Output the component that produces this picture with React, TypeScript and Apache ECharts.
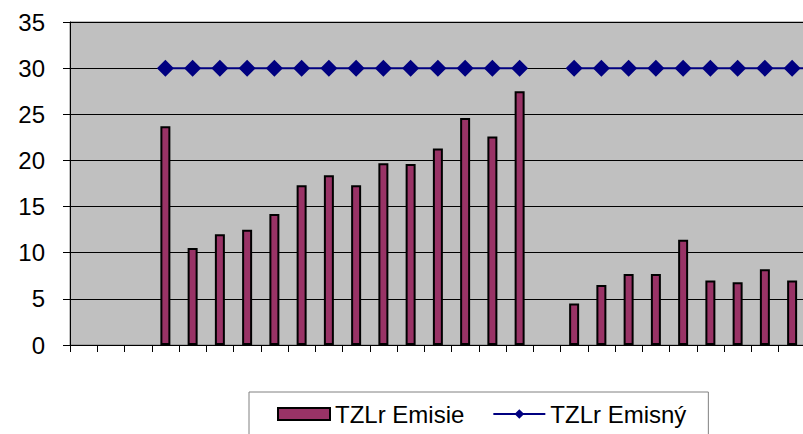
import React, { useEffect, useRef } from "react";
import * as echarts from "echarts";

const categories = ["1","2","3","4","5","6","7","8","9","10","11","12","13","14","15","16","17","18","19","20","21","22","23","24","25","26","27","28"];
const emisie = [null,null,null,23.7,10.5,12.0,12.5,14.2,17.3,18.4,17.3,19.7,19.6,21.3,24.6,22.6,27.5,null,4.5,6.5,7.7,7.7,11.4,7.0,6.8,8.2,7.0,null];
const emisny = [null,null,null,30,30,30,30,30,30,30,30,30,30,30,30,30,30,null,30,30,30,30,30,30,30,30,30,30];
const seriesNames = ["TZLr Emisie", "TZLr Emisný"];

const FONT = 'Arial, "Liberation Sans", sans-serif';

export default function App() {
  const ref = useRef<HTMLDivElement>(null);
  useEffect(() => {
    if (!ref.current) return;
    const chart = echarts.init(ref.current, undefined, { renderer: "svg" });
    chart.setOption({
      animation: false,
      backgroundColor: "#ffffff",
      grid: {
        left: 70,
        top: 22,
        width: 763,
        height: 323,
        show: true,
        backgroundColor: "#C0C0C0",
        borderColor: "#808080",
        borderWidth: 1,
        containLabel: false,
      },
      legend: {
        left: 249,
        top: 392,
        orient: "horizontal",
        padding: [10, 22, 14, 28],
        borderColor: "#808080",
        borderWidth: 1,
        itemWidth: 52,
        itemHeight: 12,
        itemGap: 28,
        textStyle: { fontSize: 24, fontFamily: FONT, color: "#000" },
        data: [
          { name: seriesNames[0], icon: "rect" },
          { name: seriesNames[1] },
        ],
      },
      xAxis: {
        type: "category",
        data: categories,
        boundaryGap: true,
        axisLine: { show: true, lineStyle: { color: "#000", width: 1 } },
        axisTick: { show: true, length: 7, inside: false, lineStyle: { color: "#000" } },
        axisLabel: { show: false },
        splitLine: { show: false },
      },
      yAxis: {
        type: "value",
        min: 0,
        max: 35,
        interval: 5,
        axisLine: { show: true, lineStyle: { color: "#000", width: 1 } },
        axisTick: { show: true, length: 7, inside: false, lineStyle: { color: "#000" } },
        axisLabel: { fontSize: 24, fontFamily: FONT, color: "#000", margin: 25 },
        splitLine: { show: true, lineStyle: { color: "#000", width: 1 } },
      },
      series: [
        {
          name: seriesNames[0],
          type: "bar",
          data: emisie,
          barWidth: 10,
          itemStyle: { color: "#993366", borderColor: "#000", borderWidth: 2 },
        },
        {
          name: seriesNames[1],
          type: "line",
          data: emisny,
          connectNulls: false,
          symbol: "diamond",
          symbolSize: 17,
          lineStyle: { color: "#000080", width: 2 },
          itemStyle: { color: "#000080" },
          z: 3,
        },
      ],
    });
    return () => chart.dispose();
  }, []);
  return (
    <div style={{ position: "absolute", left: 0, top: 0, width: 803, height: 434, overflow: "hidden" }}>
      <div ref={ref} style={{ width: 860, height: 434 }} />
    </div>
  );
}
